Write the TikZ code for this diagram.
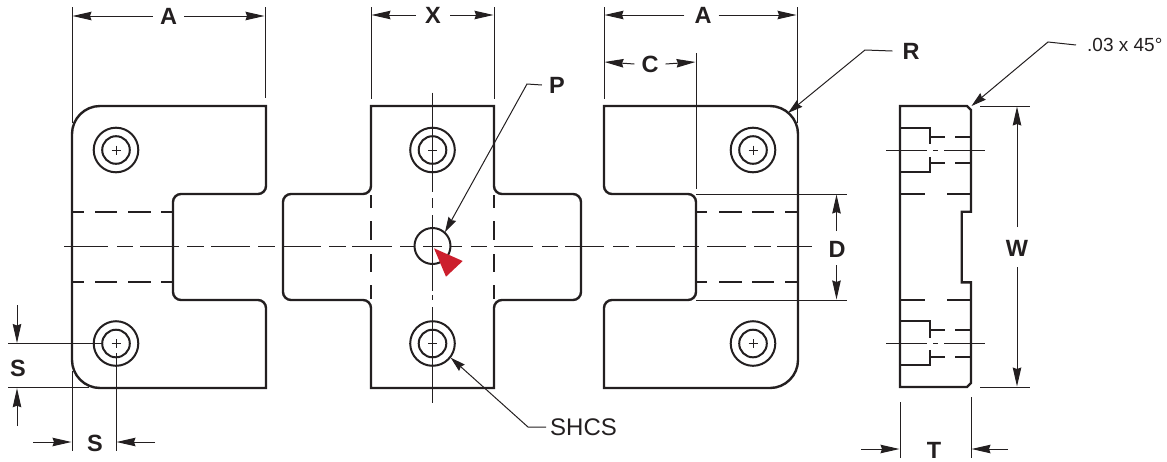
\documentclass[tikz,border=0pt]{standalone}
\usepackage{fontspec}
\setmainfont{Liberation Sans}
\usetikzlibrary{arrows.meta}
\definecolor{ink}{HTML}{231F20}
\definecolor{redtri}{HTML}{CC1F2D}
\tikzset{
  x=1pt,y=-1pt,
  outline/.style={draw=ink,line width=2.4pt,line join=miter},
  hidden/.style={draw=ink,line width=2.4pt},
  thin line/.style={draw=ink,line width=1pt},
  centerln/.style={draw=ink,line width=0.9pt},
  holeln/.style={draw=ink,line width=2pt},
  dimarrow/.style={draw=ink,line width=1pt,-{Stealth[length=19pt,width=8.5pt,inset=1.5pt]}},
  leaderarrow/.style={draw=ink,line width=1pt,-{Stealth[length=15pt,width=8.5pt,inset=1.5pt]}},
  dimlabel/.style={inner sep=0pt,text=ink,font=\fontsize{23.5}{23.5}\selectfont\bfseries},
  notelabel/.style={inner sep=0pt,text=ink,anchor=west,font=\fontsize{24}{24}\selectfont},
  smalllabel/.style={inner sep=0pt,text=ink,anchor=west,font=\fontsize{19}{19}\selectfont},
}
\newcommand{\holeat}[2]{%
  \draw[holeln] (#1,#2) circle[radius=22.3];
  \draw[holeln] (#1,#2) circle[radius=13.8];
  \draw[thin line] (#1-4.5,#2) -- (#1+4.5,#2) (#1,#2-4.5) -- (#1,#2+4.5);
}
% rounded corner at (#1,#2): #3,#4 = offset back along the incoming edge, #5,#6 = offset along the outgoing edge
\def\cn#1#2#3#4#5#6{-- (#1+#3,#2+#4) .. controls (#1+0.45*#3,#2+0.45*#4) and (#1+0.45*#5,#2+0.45*#6) .. (#1+#5,#2+#6) }
\begin{document}
\begin{tikzpicture}
\useasboundingbox (0,0) rectangle (1167,461);

% ---- left block
\draw[outline] (266,106) \cn{266}{194}{0}{-8}{-8}{0} \cn{173}{194}{8}{0}{0}{8} \cn{173}{300}{0}{-8}{8}{0} \cn{266}{300}{-8}{0}{0}{8} -- (266,388) \cn{72}{388}{28}{0}{0}{-28} \cn{72}{106}{0}{28}{28}{0} -- cycle;
\foreach \a/\b in {73/84,95/117,128/151,161/173} {
  \draw[hidden] (\a,212) -- (\b,212);
  \draw[hidden] (\a,282.2) -- (\b,282.2);
}
\holeat{116}{150}
\holeat{116}{343.5}

% ---- centre block
\draw[outline] (371,106) -- (494,106) \cn{494}{194}{0}{-8}{8}{0} \cn{581}{194}{-8}{0}{0}{8} \cn{581}{300}{0}{-8}{-8}{0} \cn{494}{300}{8}{0}{0}{8} -- (494,388) -- (371,388) \cn{371}{300}{0}{8}{-8}{0} \cn{283}{300}{8}{0}{0}{-8} \cn{283}{194}{0}{8}{8}{0} \cn{371}{194}{-8}{0}{0}{-8} -- cycle;
\foreach \a/\b in {195/208,221/240,254/272,285/299} {
  \draw[hidden] (371,\a) -- (371,\b);
  \draw[hidden] (494,\a) -- (494,\b);
}
\holeat{432.5}{150}
\holeat{432.5}{343.5}
\draw[holeln] (432.5,246) circle[radius=18];

% ---- right block
\draw[outline] (798,134) \cn{798}{106}{0}{28}{-28}{0} -- (604,106) \cn{604}{194}{0}{-8}{8}{0} \cn{696}{194}{-8}{0}{0}{8} \cn{696}{300}{0}{-8}{-8}{0} \cn{604}{300}{8}{0}{0}{8} -- (604,388) \cn{798}{388}{-28}{0}{0}{-28} -- cycle;
\foreach \a/\b in {697/707,719/742,752/774,785/797} {
  \draw[hidden] (\a,212) -- (\b,212);
  \draw[hidden] (\a,282.2) -- (\b,282.2);
}
\holeat{753}{150}
\holeat{753}{343.5}

% ---- centre lines
\foreach \a/\b in {64/108,117/133,140/179,187/204,211/250,258/275,282/321,329/346,352/392,400/414,423/442,450/462,471/487,494/533,542/558,565/604,613/629,636/675,683/699,707/746,754/771,777/812}
  \draw[centerln] (\a,246.4) -- (\b,246.4);
\foreach \a/\b in {92.7/192,198/208,215/291,295/300,307/403}
  \draw[centerln] (432.5,\a) -- (432.5,\b);

% ---- side view
\draw[outline] (900,106) -- (967,106) -- (971,110) -- (971,211.7) -- (961.7,211.7) -- (961.7,282.3) -- (971,282.3) -- (971,383) -- (967,387) -- (900,387) -- cycle;
\draw[outline] (900,127.7) -- (930,127.7) -- (930,144);
\draw[outline] (900,171.7) -- (930,171.7) -- (930,157);
\draw[outline] (900,321) -- (930,321) -- (930,338);
\draw[outline] (900,365) -- (930,365) -- (930,350);
\foreach \y in {136.7,162.7,330,356.7} {
  \draw[hidden] (930,\y) -- (945,\y);
  \draw[hidden] (955,\y) -- (971,\y);
}
\foreach \y in {194,300} {
  \draw[hidden] (900,\y) -- (925,\y);
  \draw[hidden] (947,\y) -- (971,\y);
}
\foreach \y in {150,343.7} {
  \draw[thin line] (886,\y) -- (927,\y);
  \draw[thin line] (933,\y) -- (938,\y);
  \draw[thin line] (944,\y) -- (985,\y);
}

% ---- extension lines
\draw[thin line] (72,7) -- (72,123);
\draw[thin line] (265,7) -- (265,98);
\draw[thin line] (371,7) -- (371,99);
\draw[thin line] (494,7) -- (494,99);
\draw[thin line] (604,7) -- (604,99);
\draw[thin line] (797,7) -- (797,123);
\draw[thin line] (696,53) -- (696,189);
\draw[thin line] (696,194) -- (847,194);
\draw[thin line] (696,300) -- (847,300);
\draw[thin line] (980,106) -- (1030,106);
\draw[thin line] (980,387) -- (1030,387);
\draw[thin line] (900,402) -- (900,458);
\draw[thin line] (971,397) -- (971,458);
\draw[thin line] (8,343.5) -- (102,343.5);
\draw[thin line] (8,387.7) -- (89,387.7);
\draw[thin line] (72,371) -- (72,451);
\draw[thin line] (116,353) -- (116,451);

% ---- dimension labels
\node[dimlabel] (lA1) at (168.5,16) {A};
\node[dimlabel] (lX) at (433,15) {X};
\node[dimlabel] (lA2) at (703,15) {A};
\node[dimlabel] (lC) at (650,64) {C};
\node[dimlabel] (lD) at (837,249) {D};
\node[dimlabel] (lW) at (1017,248) {W};
\node[dimlabel] (lT) at (934,450) {T};
\node[dimlabel] (lS1) at (18,368) {S};
\node[dimlabel] (lS2) at (95,443) {S};
\node[dimlabel] (lR) at (911,51) {R};
\node[dimlabel] (lP) at (557,85) {P};
\node[notelabel] (lSHCS) at (550,427) {SHCS};
\node[smalllabel] (lCh) at (1087,45) {.03 x 45°};

% ---- dimension arrows
\draw[dimarrow] ([xshift=-7pt]lA1.west) -- (72.5,16);
\draw[dimarrow] ([xshift=7pt]lA1.east) -- (264.5,16);
\draw[dimarrow] ([xshift=-9pt]lX.west) -- (371.5,15);
\draw[dimarrow] ([xshift=9pt]lX.east) -- (493.5,15);
\draw[dimarrow] ([xshift=-10pt]lA2.west) -- (604.5,15);
\draw[dimarrow] ([xshift=7pt]lA2.east) -- (796.5,15);
\draw[dimarrow] ([xshift=-7pt]lC.west) -- (604.5,62);
\draw[dimarrow] ([xshift=7pt]lC.east) -- (695.5,62);
\draw[dimarrow] (836.5,231) -- (836.5,194.5);
\draw[dimarrow] (836.5,265) -- (836.5,299.5);
\draw[dimarrow] (1017,227) -- (1017,106.5);
\draw[dimarrow] (1017,267) -- (1017,386.5);

\coordinate (sTop) at (17,305);
\coordinate (sBot) at (17,426);
\coordinate (sL) at (33,442);
\coordinate (sR) at (155,442);
\coordinate (tL) at (861,449);
\coordinate (tR) at (1008,449);
\draw[dimarrow] (sTop) -- (17,343);
\draw[dimarrow] (sBot) -- (17,388.2);
\draw[dimarrow] (sL) -- (71.5,442);
\draw[dimarrow] (sR) -- (116.5,442);
\draw[dimarrow] (tL) -- (899.5,449);
\draw[dimarrow] (tR) -- (971.5,449);

% ---- leaders
\coordinate (kR) at (865,50);
\coordinate (kP) at (527,84);
\coordinate (kS) at (528,427);
\coordinate (kC) at (1048,42);
\draw[leaderarrow] ([xshift=-10pt]lR.west) -- (kR) -- (788,113);
\draw[leaderarrow] ([xshift=-7pt]lP.west) -- (kP) -- (445,232);
\draw[leaderarrow] ([xshift=-4pt]lSHCS.west) -- (kS) -- (450.7,357.7);
\draw[leaderarrow] ([xshift=-11pt]lCh.west) -- (kC) -- (971.5,106);

% ---- red marker
\fill[redtri] (434,248.3) -- (462.7,261) -- (446,276.7) -- cycle;
\end{tikzpicture}
\end{document}
